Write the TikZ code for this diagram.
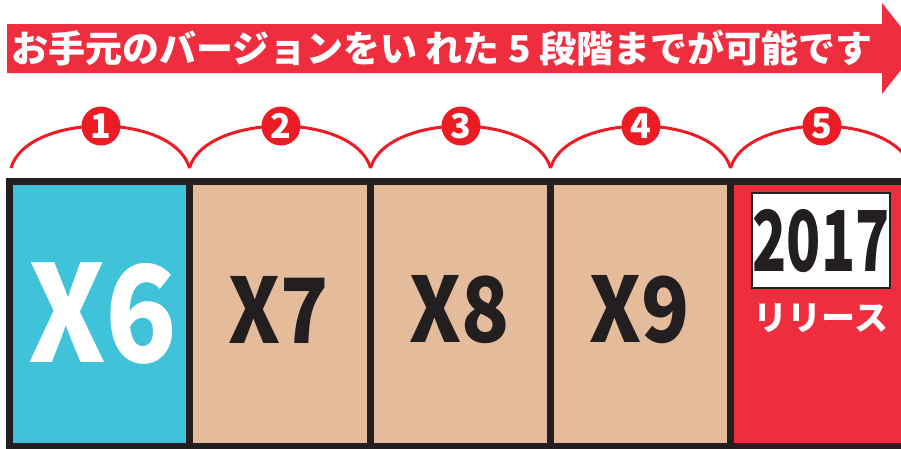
\documentclass[tikz,border=0pt]{standalone}
\usepackage{fontspec}
\setmainfont{Noto Sans CJK JP}
\usepackage{xcolor}
\usepackage{graphicx}
\usepackage{tikz}
\usetikzlibrary{positioning}
\definecolor{bannerred}{RGB}{238,45,63}
\definecolor{circlered}{RGB}{237,28,36}
\definecolor{cellcyan}{RGB}{64,195,216}
\definecolor{celltan}{RGB}{228,188,156}
\definecolor{cellred}{RGB}{238,45,63}
\definecolor{framedark}{RGB}{35,31,32}

\begin{document}
\begin{tikzpicture}[x=1pt, y=-1pt,
    frame/.style={draw=framedark, line width=7pt},
    step arc/.style={draw=circlered, line width=3pt},
    step circle/.style={circle, fill=circlered, minimum size=39pt, inner sep=0pt, text=white,
        font=\fontsize{34}{34}\selectfont\bfseries},
    version/.style={inner sep=0pt, text=framedark, font=\fontsize{90}{90}\selectfont\bfseries}]
    \useasboundingbox (0,0) rectangle (901,448);
    \clip (0,0) rectangle (901,448);

    % Banner arrow
    \fill[bannerred] (7,24) -- (882,24) -- (882,3) -- (918,48.5) -- (882,94) -- (882,73) -- (7,73) -- cycle;
    \node[anchor=west, inner sep=0pt, text=white, font=\fontsize{37}{37}\selectfont\bfseries]
        (title) at (11,48.5) {お手元のバージョンをい れた 5 段階までが可能です};

    % Cells
    \foreach \l/\r/\c in {9.5/189.5/cellcyan, 189.5/370.5/celltan, 370.5/550.5/celltan,
                          550.5/730.5/celltan, 730.5/911/cellred}
        \fill[\c] (\l,181) rectangle (\r,446);

    % Frame
    \draw[frame] (9.5,181) rectangle (911,446);
    \foreach \x in {189.5, 370.5, 550.5, 730.5}
        \draw[frame] (\x,181) -- (\x,446);

    % Arcs and step numbers
    \foreach \i/\l/\m/\r in {1/11/101/189.5, 2/189.5/281/370.5, 3/370.5/461/550.5,
                             4/550.5/641/730.5, 5/730.5/822/911} {
        \coordinate (a\i) at (\l,168);
        \coordinate (b\i) at (\r,168);
        \coordinate (c\i) at (\m,126);
        \draw[step arc] (a\i) .. controls +(8,-28) and +(-40,0) .. (c\i)
                              .. controls +(40,0) and +(-8,-28) .. (b\i);
        \node[step circle] (n\i) at (c\i) {\i};
    }

    % Versions
    \node[version, text=white, font=\fontsize{134}{134}\selectfont\bfseries] (x6) at (103,314) {\scalebox{0.88}[1]{X6}};
    \node[version] (x7) at (279,310) {\scalebox{0.88}[1]{X7}};
    \node[version] (x8) at (460,310) {\scalebox{0.88}[1]{X8}};
    \node[version] (x9) at (640,310) {\scalebox{0.88}[1]{X9}};

    % Release
    \node[draw=framedark, line width=2pt, fill=white, minimum width=136pt, minimum height=95pt,
        inner sep=0pt, text=framedark, font=\fontsize{84}{84}\selectfont\bfseries]
        (year) at (821,240.5) {\scalebox{0.67}[1]{2017}};
    \node[inner sep=0pt, text=white, font=\fontsize{34}{34}\selectfont\bfseries]
        (release) at (821,318) {リリース};
\end{tikzpicture}
\end{document}
